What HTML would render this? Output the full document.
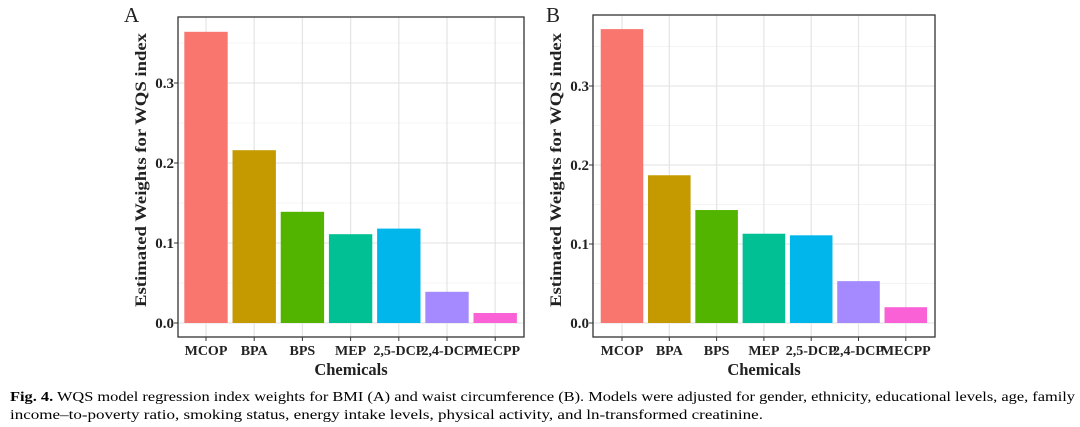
<!DOCTYPE html>
<html><head><meta charset="utf-8"><style>
html,body{margin:0;padding:0;background:#fff;}
svg{display:block;font-family:"Liberation Serif",serif;}
</style></head><body>
<svg id="fig" width="1080" height="427" viewBox="0 0 1080 427">
<g id="panelA"></g>
<g id="panelB"></g>
<text x="10" y="401" font-size="13.5" textLength="1065" lengthAdjust="spacingAndGlyphs"><tspan font-weight="bold">Fig. 4.</tspan> WQS model regression index weights for BMI (A) and waist circumference (B). Models were adjusted for gender, ethnicity, educational levels, age, family</text>
<text x="10" y="419" font-size="13.5" textLength="753" lengthAdjust="spacingAndGlyphs">income–to-poverty ratio, smoking status, energy intake levels, physical activity, and ln-transformed creatinine.</text>
</svg>
<script>
const categories = ["MCOP","BPA","BPS","MEP","2,5-DCP","2,4-DCP","MECPP"];
const valuesA = [0.364,0.216,0.139,0.111,0.118,0.039,0.0125];
const valuesB = [0.372,0.187,0.143,0.113,0.111,0.053,0.020];
const yTicks = [0.0,0.1,0.2,0.3];
const yTickLabels = ["0.0","0.1","0.2","0.3"];
const colors = ["#F8766D","#C49A00","#53B400","#00C094","#00B6EB","#A58AFF","#FB61D7"];
const NS = "http://www.w3.org/2000/svg";
function mk(parent, tag, attrs){const e=document.createElementNS(NS,tag);for(const k in attrs)e.setAttribute(k,attrs[k]);parent.appendChild(e);return e;}
function draw(g, vals, cfg, letter){
  const yScale = v => cfg.y0 - v*cfg.pxPer;
  const xScale = i => cfg.c0 + i*cfg.step;
  const bg = mk(g,"rect",{x:cfg.x0,y:cfg.yt,width:cfg.x1-cfg.x0,height:cfg.yb-cfg.yt,fill:"#fff"});
  
  
  for(let t=0.05;t<0.4;t+=0.1){const y=yScale(t);if(y<cfg.yt)continue;
    const l=mk(g,"line",{x1:cfg.x0,x2:cfg.x1,y1:y,y2:y,stroke:"#f0f0f0","stroke-width":0.8});
    
    }
  yTicks.forEach((t,i)=>{const y=yScale(t);
    const l=mk(g,"line",{x1:cfg.x0,x2:cfg.x1,y1:y,y2:y,stroke:"#e6e6e6","stroke-width":1.3});
    
    
    const tk=mk(g,"line",{x1:cfg.x0-4,x2:cfg.x0,y1:y,y2:y,stroke:"#333","stroke-width":1});
    
    
    const tx=mk(g,"text",{x:cfg.x0-4,y:y+5,"text-anchor":"end","font-size":15,"font-weight":"bold",fill:"#222"});
    tx.textContent=yTickLabels[i];
    
    });
  categories.forEach((c,i)=>{const x=xScale(i);
    const l=mk(g,"line",{x1:x,x2:x,y1:cfg.yt,y2:cfg.yb,stroke:"#e6e6e6","stroke-width":1.3});
    
    });
  categories.forEach((c,i)=>{const x=xScale(i);const w=cfg.step*0.9;
    const b=mk(g,"rect",{x:x-w/2,y:yScale(vals[i]),width:w,height:yScale(0)-yScale(vals[i]),fill:colors[i]});
    
    
    const tk=mk(g,"line",{x1:x,x2:x,y1:cfg.yb,y2:cfg.yb+4,stroke:"#333","stroke-width":1});
    
    
    const tx=mk(g,"text",{x:x,y:cfg.yb+18,"text-anchor":"middle","font-size":14,"font-weight":"bold",fill:"#222"});
    tx.textContent=c;
    
    });
  const fr=mk(g,"rect",{x:cfg.x0,y:cfg.yt,width:cfg.x1-cfg.x0,height:cfg.yb-cfg.yt,fill:"none",stroke:"#333","stroke-width":1.3});
  
  
  const xt=mk(g,"text",{x:(cfg.x0+cfg.x1)/2,y:cfg.yb+38,"text-anchor":"middle","font-size":16.5,"font-weight":"bold",fill:"#222"});
  xt.textContent="Chemicals";
  
  
  const yc=170;
  const yt=mk(g,"text",{x:cfg.ytx,y:yc,"text-anchor":"middle","font-size":16,"font-weight":"bold",fill:"#222",textLength:274,lengthAdjust:"spacingAndGlyphs",transform:`rotate(-90 ${cfg.ytx} ${yc})`});
  yt.textContent="Estimated Weights for WQS index";
  
  
  const lt=mk(g,"text",{x:cfg.lx,y:22,"font-size":21,fill:"#222"});
  lt.textContent=letter;
  
  
}
draw(document.getElementById('panelA'), valuesA, {x0:178,x1:524,yt:17,yb:337,y0:323,pxPer:800,c0:206,step:48.2,ytx:146,lx:124}, "A");
draw(document.getElementById('panelB'), valuesB, {x0:593,x1:935,yt:15,yb:337,y0:323,pxPer:790,c0:622,step:47.3,ytx:561,lx:546}, "B");
</script>
</body></html>
